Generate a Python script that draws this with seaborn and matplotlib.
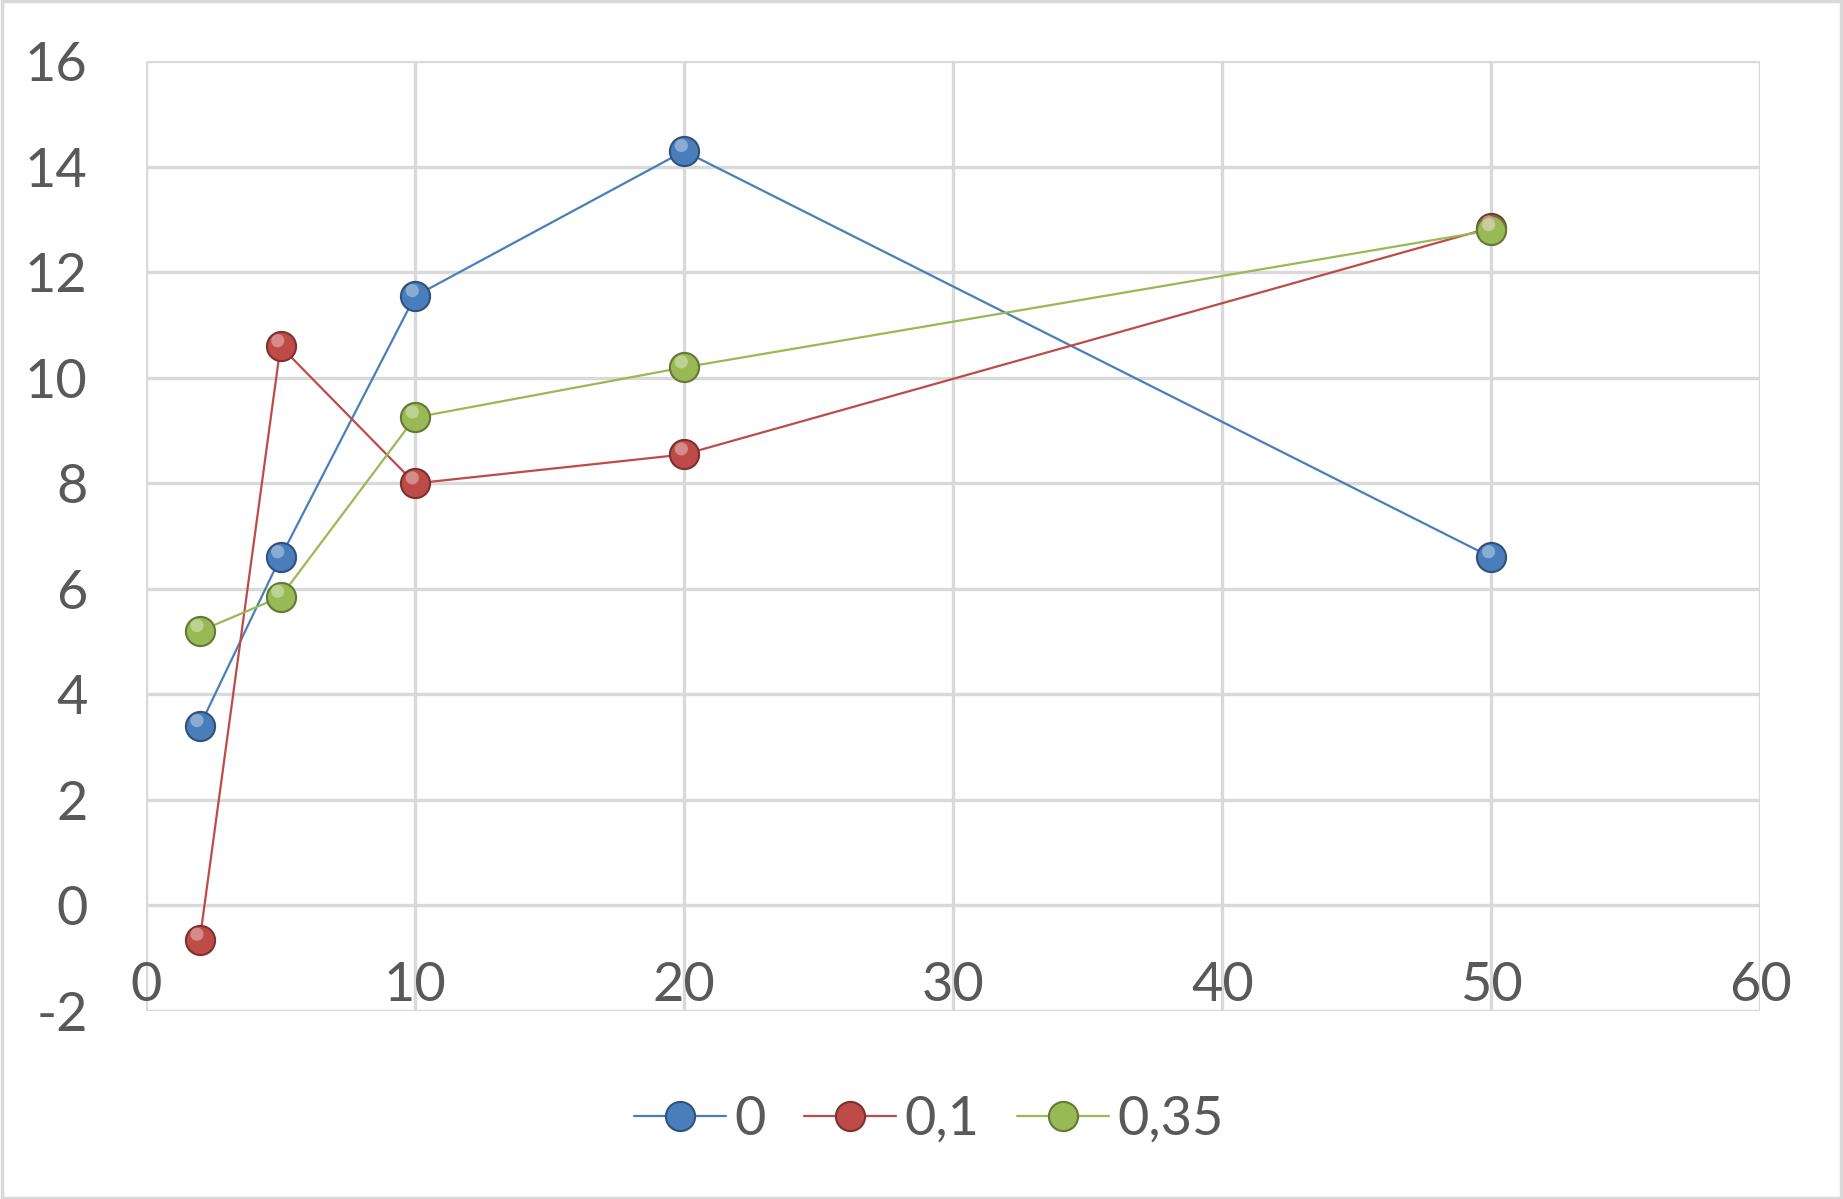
import matplotlib
matplotlib.use("Agg")
import matplotlib.pyplot as plt
import matplotlib.transforms as mtransforms
import pandas as pd
import seaborn as sns

# data
x_vals = [2, 5, 10, 20, 50]
serie_0 = [3.4, 6.6, 11.55, 14.3, 6.6]
serie_01 = [-0.65, 10.6, 8.0, 8.55, 12.85]
serie_035 = [5.2, 5.85, 9.25, 10.2, 12.8]
labels = ["0", "0,1", "0,35"]
cores = ["#4A7EBB", "#BE4B48", "#98B954"]

df = pd.DataFrame({
    "x": x_vals * 3,
    "y": serie_0 + serie_01 + serie_035,
    "serie": [labels[0]] * 5 + [labels[1]] * 5 + [labels[2]] * 5,
})

sns.set_style("white")
plt.rcParams["font.family"] = ["Lato", "DejaVu Sans"]
plt.rcParams["axes.unicode_minus"] = False


def escuro(c, f=0.65):
    return tuple(v * f for v in matplotlib.colors.to_rgb(c))


def claro(c, f=0.45):
    return tuple(v + (1 - v) * f for v in matplotlib.colors.to_rgb(c))


fig = plt.figure(figsize=(18.43, 11.99), dpi=100)
ax = fig.add_axes([0.0792, 0.1568, 0.876, 0.792])

sns.lineplot(data=df, x="x", y="y", hue="serie", palette=cores, marker="o",
             markersize=21, linewidth=1.6, markeredgewidth=1.5, ax=ax, zorder=3)

for ln, c in zip(ax.get_lines(), cores):
    ln.set_markeredgecolor(escuro(c))

# small highlight on each ball (sphere look)
desloc = mtransforms.offset_copy(ax.transData, fig=fig, x=-2, y=4, units="points")
for nome, c in zip(labels, cores):
    d = df[df["serie"] == nome]
    ax.scatter(d["x"], d["y"], s=90, color=claro(c), edgecolor="none",
               transform=desloc, zorder=4, alpha=0.8)

ax.set_xlim(0, 60)
ax.set_ylim(-2, 16)
ax.set_xticks(range(0, 61, 10))
ax.set_yticks(range(-2, 17, 2))
ax.grid(True, color="#D9D9D9", linewidth=2.4)
ax.set_axisbelow(True)
for s in ax.spines.values():
    s.set_visible(False)
ax.spines["bottom"].set_position(("data", 0))
ax.tick_params(axis="both", length=0, labelsize=39, colors="#595959")
ax.tick_params(axis="x", pad=40)
ax.tick_params(axis="y", pad=42)
ax.set_xlabel("")
ax.set_ylabel("")

handles, _ = ax.get_legend_handles_labels()
for h, c in zip(handles, cores):
    h.set_markeredgecolor(escuro(c))
ax.legend(handles, labels, loc="center", bbox_to_anchor=(0.485, -0.114), ncol=3,
          frameon=False, fontsize=39, labelcolor="#595959", handlelength=1.7,
          handletextpad=0.15, columnspacing=0.7, borderaxespad=0)

# light border around the whole chart
fig.patches.append(plt.Rectangle((0.001, 0.001), 0.998, 0.998, transform=fig.transFigure,
                                 fill=False, edgecolor="#D9D9D9", linewidth=2.5))

fig.savefig("out.png", dpi=100)
